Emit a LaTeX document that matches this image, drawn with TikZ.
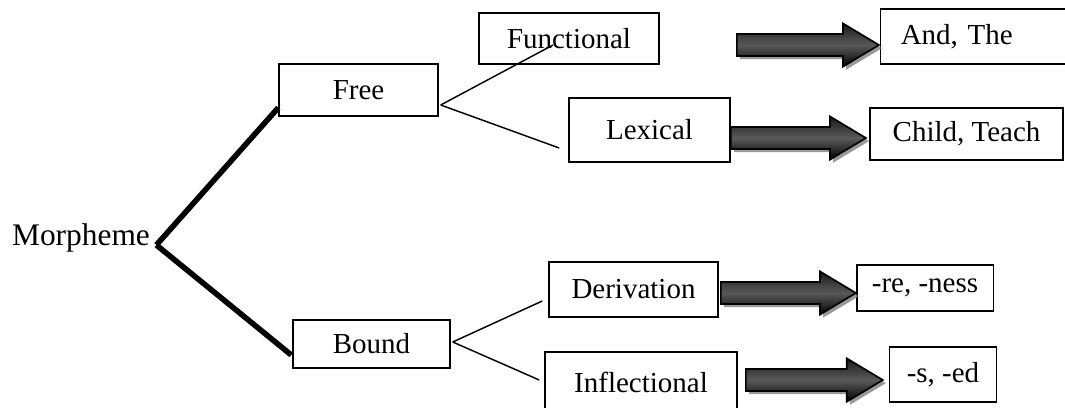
\documentclass[tikz,border=0pt]{standalone}
\usepackage{fontspec}
\setmainfont{Liberation Serif}
\usetikzlibrary{shapes.arrows,shadows}

\tikzset{
  box/.style={draw, line width=0.6pt, inner sep=0pt, font=\fontsize{12}{14}\selectfont},
  branch/.style={line width=2.3pt},
  twig/.style={line width=0.6pt},
  fat/.style={single arrow, draw, line width=0.7pt, inner xsep=0pt, inner ysep=4.2pt,
    single arrow head extend=4.4pt, single arrow tip angle=62, anchor=tail,
    top color=black!90, bottom color=black, middle color=black!65,
    drop shadow={shadow xshift=1.3pt, shadow yshift=-1.3pt, fill=black!50, opacity=0.8}}
}

\begin{document}
\begin{tikzpicture}[x=0.414pt, y=-0.414pt]
\useasboundingbox (0,0) rectangle (1065,407);

% Root
\node[inner sep=0pt, font=\fontsize{13}{15}\selectfont] (morph) at (81,238) {Morpheme};

% First level
\node[box, minimum width=65.8pt, minimum height=21.5pt] (free) at (358.5,90) {Free};
\node[box, minimum width=65pt, minimum height=19.9pt] (bound) at (371.5,344) {Bound};

\draw[branch] ([shift={(6,7)}]morph.east) -- ([shift={(0,-9)}]free.south west);
\draw[branch] ([shift={(6,7)}]morph.east) -- ([shift={(-1,11)}]bound.west);

% Free morphemes
\node[box, minimum width=74.5pt, minimum height=21.1pt] (func) at (569,38.5) {Functional};
\node[box, minimum width=66.7pt, minimum height=26.5pt] (lex) at (649.5,130) {Lexical};

\draw[twig] ([shift={(2,15)}]free.east) -- ([shift={(-16,6.5)}]func.center);
\draw[twig] ([shift={(2,15)}]free.east) -- ([shift={(-9,18)}]lex.west);

% Bound morphemes
\node[box, minimum width=70pt, minimum height=22.8pt] (deriv) at (633.5,289.5) {Derivation};
\node[box, minimum width=79.5pt, minimum height=24.8pt] (infl) at (641,382) {Inflectional};

\draw[twig] ([shift={(2,-2)}]bound.east) -- ([shift={(-6,11.5)}]deriv.west);
\draw[twig] ([shift={(2,-2)}]bound.east) -- ([shift={(-5,-2)}]infl.west);

% Examples
\node[box, align=left, inner xsep=8.3pt, text width=82.8pt, minimum height=22.8pt, anchor=west] (andthe) at (880,36.5) {And, The};
\node[box, minimum width=79.9pt, minimum height=21.5pt] (child) at (966.5,134) {Child, Teach};
\node[box, minimum width=56.5pt, minimum height=19pt] (rene) at (925,288) {-re, -ness};
\node[box, minimum width=44.5pt, minimum height=22.8pt] (sed) at (943,374.5) {-s, -ed};

% Block arrows
\node[fat, minimum height=58.8pt] (a1) at (736,45) {};
\node[fat, minimum height=55.9pt] (a2) at (730,138) {};
\node[fat, minimum height=55.9pt] (a3) at (720,293) {};
\node[fat, minimum height=56.7pt] (a4) at (745,380) {};
\end{tikzpicture}
\end{document}
